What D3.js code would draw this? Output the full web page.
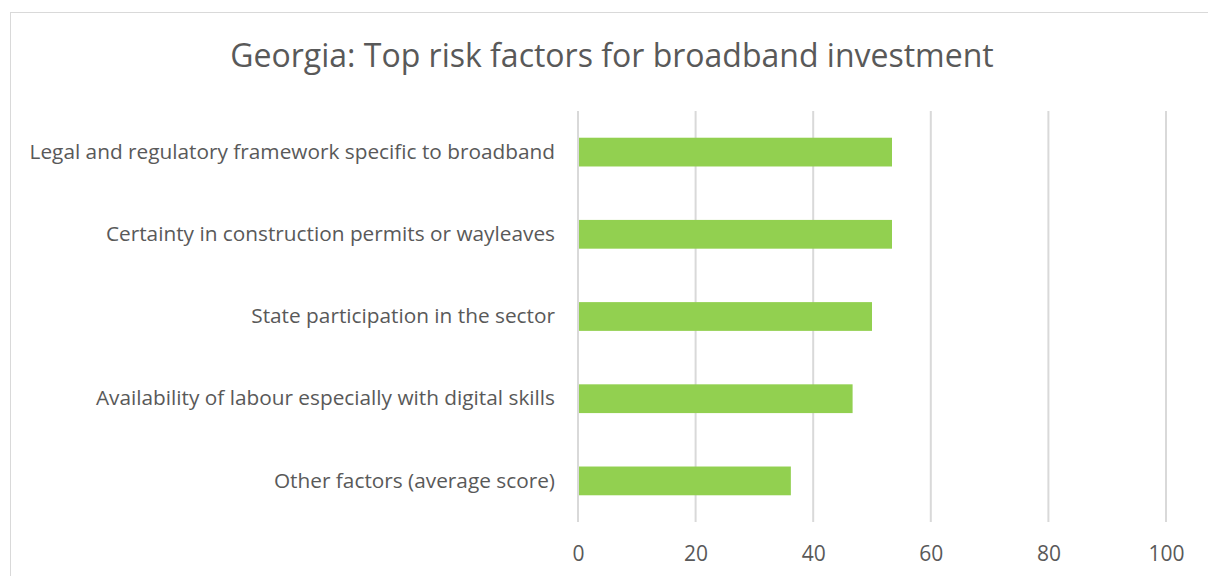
<!DOCTYPE html>
<html>
<head>
<meta charset="utf-8">
<script src="https://cdn.jsdelivr.net/npm/d3@7"></script>
<style>
  body { margin: 0; background: #fff; }
  text { font-family: "Open Sans", "Noto Sans", sans-serif; fill: #595959; }
</style>
</head>
<body>
<script>
// chart data
var title = "Georgia: Top risk factors for broadband investment";
var categories = [
  "Legal and regulatory framework specific to broadband",
  "Certainty in construction permits or wayleaves",
  "State participation in the sector",
  "Availability of labour especially with digital skills",
  "Other factors (average score)"
];
var values = [53.4, 53.4, 50.0, 46.7, 36.2];
var ticks = [0, 20, 40, 60, 80, 100];

// layout
var width = 1208, height = 576;
var plot = {left: 578, right: 1166, top: 111, bottom: 522};

var svg = d3.select("body").append("svg")
    .attr("width", width)
    .attr("height", height);

// chart border
svg.append("rect")
    .attr("x", 10.5).attr("y", 12.5)
    .attr("width", 1210).attr("height", 580)
    .attr("fill", "none")
    .attr("stroke", "#d9d9d9")
    .attr("stroke-width", 1);

svg.append("text")
    .attr("x", 612).attr("y", 67)
    .attr("text-anchor", "middle")
    .style("font-size", "32px")
    .text(title);

var x = d3.scaleLinear().domain([0, 100]).range([plot.left, plot.right]);
var y = d3.scaleBand().domain(categories).range([plot.top, plot.bottom]).paddingInner(0.65).paddingOuter(0.325);

// gridlines
svg.append("g").selectAll("line")
    .data(ticks)
    .join("line")
    .attr("x1", d => x(d)).attr("x2", d => x(d))
    .attr("y1", plot.top).attr("y2", plot.bottom)
    .attr("stroke", "#d9d9d9")
    .attr("stroke-width", 2);

// bars
svg.append("g").selectAll("rect")
    .data(values)
    .join("rect")
    .attr("x", x(0) + 1)
    .attr("y", (d, i) => y(categories[i]))
    .attr("width", d => x(d) - x(0) - 1)
    .attr("height", y.bandwidth())
    .attr("fill", "#92d050");

// x axis labels
var xAxis = svg.append("g")
    .attr("transform", "translate(0," + plot.bottom + ")")
    .call(d3.axisBottom(x).tickValues(ticks).tickSize(0).tickPadding(24));
xAxis.select(".domain").remove();
xAxis.selectAll("text").style("font-size", "21px").attr("fill", "#595959");

// category labels
var yAxis = svg.append("g")
    .attr("transform", "translate(" + (plot.left - 23) + ",0)")
    .call(d3.axisLeft(y).tickSize(0).tickPadding(0));
yAxis.select(".domain").remove();
yAxis.selectAll("text").style("font-size", "20.8px").attr("fill", "#595959");
</script>
</body>
</html>
